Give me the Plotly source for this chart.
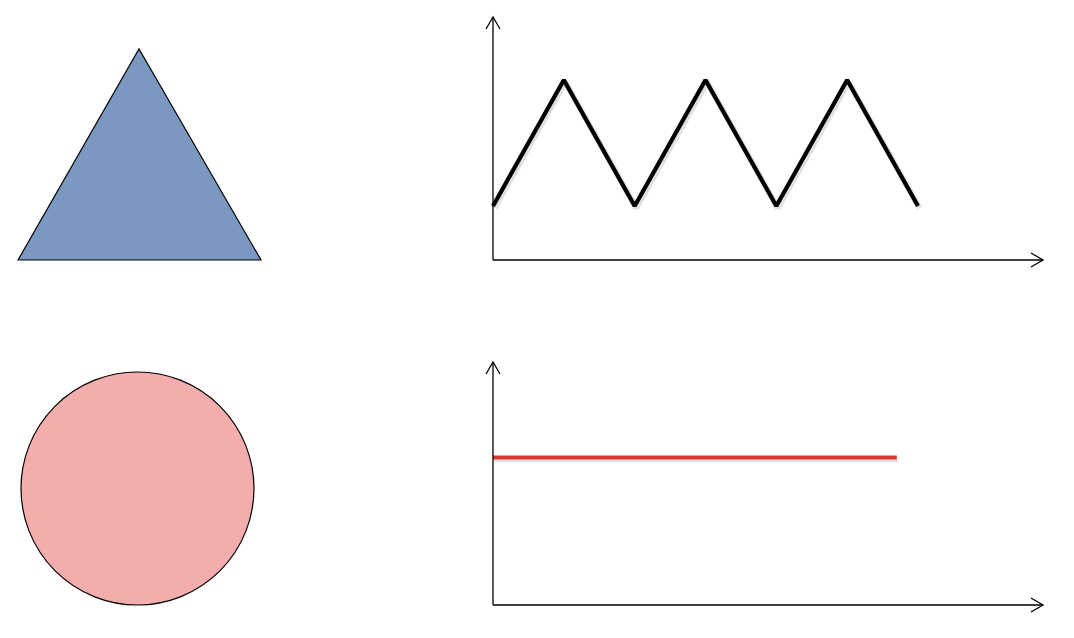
import plotly.graph_objects as go

# The page body has an 8px margin, so the figure is made smaller and
# pixel positions are measured relative to that offset.
OFF = 8
W, H = 1074 - OFF, 638 - OFF

# ---- data ----
zigzag_x = [0, 1, 2, 3, 4, 5, 6]
zigzag_y = [30, 100, 30, 100, 30, 100, 30]
flat_x = [0, 5.7]
flat_y = [82, 82]

triangle_color = "#7b98c0"
circle_color = "#f4adad"
zigzag_color = "#000000"
flat_color = "#d9382c"

# ---- helpers (window pixel -> paper) ----
def px(x):
    return (x - OFF) / W

def py(y):
    return 1 - (y - OFF) / H

UX = 70.83   # pixels per x unit
UY = 1.8     # pixels per y unit

fig = go.Figure()

# soft shadows under the lines
sx = 1.5 / UX
sy = 2.0 / UY
fig.add_trace(go.Scatter(x=[v + sx for v in zigzag_x], y=[v - sy for v in zigzag_y], mode="lines",
                         line=dict(color="rgba(0,0,0,0.12)", width=6),
                         xaxis="x", yaxis="y", hoverinfo="skip"))
fig.add_trace(go.Scatter(x=[v + sx for v in flat_x], y=[v - sy for v in flat_y], mode="lines",
                         line=dict(color="rgba(0,0,0,0.10)", width=6),
                         xaxis="x2", yaxis="y2", hoverinfo="skip"))

fig.add_trace(go.Scatter(x=zigzag_x, y=zigzag_y, mode="lines",
                         line=dict(color=zigzag_color, width=4.2),
                         xaxis="x", yaxis="y", hoverinfo="skip"))
fig.add_trace(go.Scatter(x=flat_x, y=flat_y, mode="lines",
                         line=dict(color=flat_color, width=4),
                         xaxis="x2", yaxis="y2", hoverinfo="skip"))

shapes = []

# triangle
shapes.append(dict(type="path", xref="paper", yref="paper",
                   path=f"M {px(18)},{py(260)} L {px(139)},{py(49)} L {px(261)},{py(260)} Z",
                   fillcolor=triangle_color, line=dict(color="black", width=1.2), layer="below"))
# circle
shapes.append(dict(type="circle", xref="paper", yref="paper",
                   x0=px(21), x1=px(254), y0=py(605), y1=py(372),
                   fillcolor=circle_color, line=dict(color="black", width=1.2), layer="below"))

def arrow_axes(ox, oy, top, right):
    s = []
    s.append(dict(type="line", xref="paper", yref="paper",
                  x0=px(ox), y0=py(oy), x1=px(ox), y1=py(top),
                  line=dict(color="black", width=1.3)))
    s.append(dict(type="line", xref="paper", yref="paper",
                  x0=px(ox), y0=py(oy), x1=px(right), y1=py(oy),
                  line=dict(color="black", width=1.3)))
    s.append(dict(type="path", xref="paper", yref="paper",
                  path=f"M {px(ox-7)},{py(top+12)} L {px(ox)},{py(top)} L {px(ox+7)},{py(top+12)}",
                  line=dict(color="black", width=1.3)))
    s.append(dict(type="path", xref="paper", yref="paper",
                  path=f"M {px(right-12)},{py(oy-7)} L {px(right)},{py(oy)} L {px(right-12)},{py(oy+7)}",
                  line=dict(color="black", width=1.3)))
    return s

shapes += arrow_axes(493, 260, 17, 1043)
shapes += arrow_axes(493, 605, 362, 1043)

def xaxis_cfg():
    return dict(domain=[px(483), px(1053)],
                range=[(483 - 493) / UX, (1053 - 493) / UX],
                visible=False, fixedrange=True)

def yaxis_cfg(top_px, bottom_px, origin_px):
    return dict(domain=[py(bottom_px), py(top_px)],
                range=[(origin_px - bottom_px) / UY, (origin_px - top_px) / UY],
                visible=False, fixedrange=True)

fig.update_layout(
    width=W, height=H,
    margin=dict(l=0, r=0, t=0, b=0),
    paper_bgcolor="white", plot_bgcolor="rgba(0,0,0,0)",
    showlegend=False,
    shapes=shapes,
    xaxis=dict(**xaxis_cfg(), anchor="y"),
    yaxis=dict(**yaxis_cfg(10, 270, 260), anchor="x"),
    xaxis2=dict(**xaxis_cfg(), anchor="y2"),
    yaxis2=dict(**yaxis_cfg(355, 615, 605), anchor="x2"),
)

fig.write_html("out.html", config={"displayModeBar": False})
